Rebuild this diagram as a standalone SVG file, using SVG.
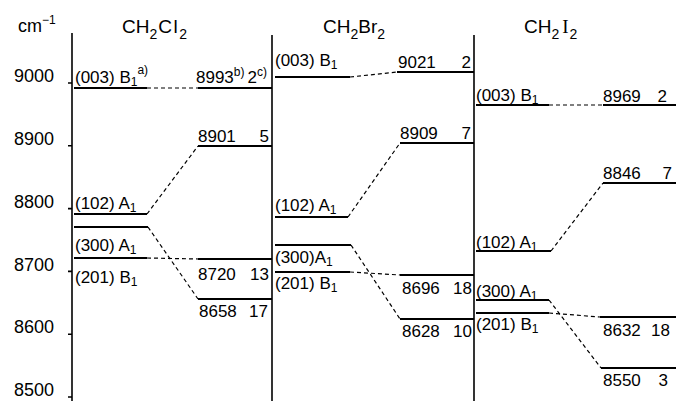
<svg xmlns="http://www.w3.org/2000/svg" width="676" height="401" viewBox="0 0 676 401">
<style>
text{font-family:"Liberation Sans","DejaVu Sans",sans-serif;fill:#000}
.t{font-size:17px}
.ax{font-size:18px}
.h{font-size:19px}
.e{text-anchor:end}
.sub{font-size:12px}
.sup{font-size:12px}
.axis{stroke:#000;stroke-width:1.6;fill:none}
.lv{stroke:#000;stroke-width:2.2;fill:none}
.dash{stroke:#000;stroke-width:1.2;stroke-dasharray:4 3;fill:none}
</style>
<rect width="676" height="401" fill="#fff"/>
<g id="axes">
<line class="axis" x1="72" y1="33" x2="72" y2="401"/>
<line class="axis" x1="272" y1="35" x2="272" y2="401"/>
<line class="axis" x1="474" y1="35" x2="474" y2="401"/>
<path class="axis" d="M68 83H72M68 145.8H72M68 208.6H72M68 271.4H72M68 334.2H72M68 397H72"/>
<text class="ax" x="18" y="32">cm<tspan class="sup" dy="-8">−1</tspan></text>
<text class="ax e" x="54" y="82">9000</text>
<text class="ax e" x="54" y="144.5">8900</text>
<text class="ax e" x="54" y="207.5">8800</text>
<text class="ax e" x="54" y="270.5">8700</text>
<text class="ax e" x="54" y="333">8600</text>
<text class="ax e" x="54" y="396">8500</text>
</g>
<g id="headers">
<text class="h" x="122" y="33">CH<tspan font-size="14" dy="6">2</tspan><tspan dy="-6" dx="1" letter-spacing="1.5">Cl</tspan><tspan font-size="14" dy="6">2</tspan></text>
<text class="h" x="323" y="33">CH<tspan font-size="14" dy="6">2</tspan><tspan dy="-6">Br</tspan><tspan font-size="14" dy="6">2</tspan></text>
<text class="h" x="524" y="33">CH<tspan font-size="14" dy="6">2</tspan><tspan dy="-6" dx="3" font-family="Liberation Serif,serif">I</tspan><tspan font-size="14" dy="6" dx="1">2</tspan></text>
</g>
<g id="connectors">
<line class="dash" x1="147" y1="88" x2="198" y2="88"/>
<line class="dash" x1="147" y1="214" x2="198" y2="146"/>
<line class="dash" x1="148" y1="227" x2="198" y2="299"/>
<line class="dash" x1="147" y1="258" x2="198" y2="259"/>
<line class="dash" x1="350" y1="77" x2="397" y2="72"/>
<line class="dash" x1="348" y1="217" x2="400" y2="143"/>
<line class="dash" x1="351" y1="245" x2="400" y2="319"/>
<line class="dash" x1="350" y1="272" x2="400" y2="275"/>
<line class="dash" x1="549" y1="105" x2="603" y2="105"/>
<line class="dash" x1="551" y1="251" x2="603" y2="183"/>
<line class="dash" x1="549" y1="300" x2="601" y2="368"/>
<line class="dash" x1="549" y1="313" x2="600" y2="317"/>
</g>
<g id="cl-003-left"><line class="lv" x1="74" y1="88" x2="147" y2="88"/><text class="t" x="75" y="83">(003) B<tspan class="sub" dy="3">1</tspan><tspan class="sup" dy="-12" dx="0">a)</tspan></text></g>
<g id="cl-8993"><line class="lv" x1="198" y1="88" x2="272" y2="88"/><text class="t" x="196" y="83">8993<tspan class="sup" dy="-7">b)</tspan><tspan dy="7" dx="3">2</tspan><tspan class="sup" dy="-7">c)</tspan></text></g>
<g id="cl-8901"><line class="lv" x1="198" y1="146" x2="272" y2="146"/><text class="t" x="198" y="142">8901</text><text class="t e" x="269" y="142">5</text></g>
<g id="cl-102"><line class="lv" x1="74" y1="214" x2="147" y2="214"/><text class="t" x="75" y="209">(102) A<tspan class="sub" dy="3">1</tspan></text></g>
<g id="cl-300"><line class="lv" x1="74" y1="227" x2="148" y2="227"/><text class="t" x="75" y="251">(300) A<tspan class="sub" dy="3">1</tspan></text></g>
<g id="cl-201"><line class="lv" x1="74" y1="258" x2="147" y2="258"/><text class="t" x="75" y="283">(201) B<tspan class="sub" dy="3">1</tspan></text></g>
<g id="cl-8720"><line class="lv" x1="198" y1="259" x2="272" y2="259"/><text class="t" x="198" y="280">8720</text><text class="t e" x="269" y="280">13</text></g>
<g id="cl-8658"><line class="lv" x1="198" y1="299" x2="272" y2="299"/><text class="t" x="199" y="317">8658</text><text class="t e" x="268" y="317">17</text></g>
<g id="br-003-left"><line class="lv" x1="275" y1="77" x2="350" y2="77"/><text class="t" x="275" y="66">(003) B<tspan class="sub" dy="3">1</tspan></text></g>
<g id="br-9021"><line class="lv" x1="397" y1="72" x2="474" y2="72"/><text class="t" x="398" y="68">9021</text><text class="t e" x="471" y="68">2</text></g>
<g id="br-8909"><line class="lv" x1="400" y1="143" x2="474" y2="143"/><text class="t" x="400" y="139">8909</text><text class="t e" x="471" y="139">7</text></g>
<g id="br-102"><line class="lv" x1="275" y1="217" x2="348" y2="217"/><text class="t" x="275" y="211">(102) A<tspan class="sub" dy="3">1</tspan></text></g>
<g id="br-300"><line class="lv" x1="275" y1="245" x2="351" y2="245"/><text class="t" x="275" y="263">(300)A<tspan class="sub" dy="3">1</tspan></text></g>
<g id="br-201"><line class="lv" x1="275" y1="272" x2="350" y2="272"/><text class="t" x="275" y="289">(201) B<tspan class="sub" dy="3">1</tspan></text></g>
<g id="br-8696"><line class="lv" x1="400" y1="275" x2="474" y2="275"/><text class="t" x="402" y="294">8696</text><text class="t e" x="472" y="294">18</text></g>
<g id="br-8628"><line class="lv" x1="400" y1="319" x2="474" y2="319"/><text class="t" x="402" y="337">8628</text><text class="t e" x="472" y="337">10</text></g>
<g id="i-003-left"><line class="lv" x1="476" y1="105" x2="549" y2="105"/><text class="t" x="476" y="101">(003) B<tspan class="sub" dy="3">1</tspan></text></g>
<g id="i-8969"><line class="lv" x1="603" y1="105" x2="676" y2="105"/><text class="t" x="603" y="102">8969</text><text class="t e" x="667" y="102">2</text></g>
<g id="i-8846"><line class="lv" x1="603" y1="183" x2="676" y2="183"/><text class="t" x="603" y="179">8846</text><text class="t e" x="672" y="179">7</text></g>
<g id="i-102"><line class="lv" x1="476" y1="251" x2="551" y2="251"/><text class="t" x="476" y="248">(102) A<tspan class="sub" dy="3">1</tspan></text></g>
<g id="i-300"><line class="lv" x1="476" y1="300" x2="549" y2="300"/><text class="t" x="476" y="297">(300) A<tspan class="sub" dy="3">1</tspan></text></g>
<g id="i-201"><line class="lv" x1="476" y1="313" x2="549" y2="313"/><text class="t" x="476" y="330">(201) B<tspan class="sub" dy="3">1</tspan></text></g>
<g id="i-8632"><line class="lv" x1="600" y1="317" x2="676" y2="317"/><text class="t" x="603" y="336">8632</text><text class="t e" x="670" y="336">18</text></g>
<g id="i-8550"><line class="lv" x1="601" y1="368" x2="676" y2="368"/><text class="t" x="603" y="386">8550</text><text class="t e" x="668" y="386">3</text></g>
</svg>
